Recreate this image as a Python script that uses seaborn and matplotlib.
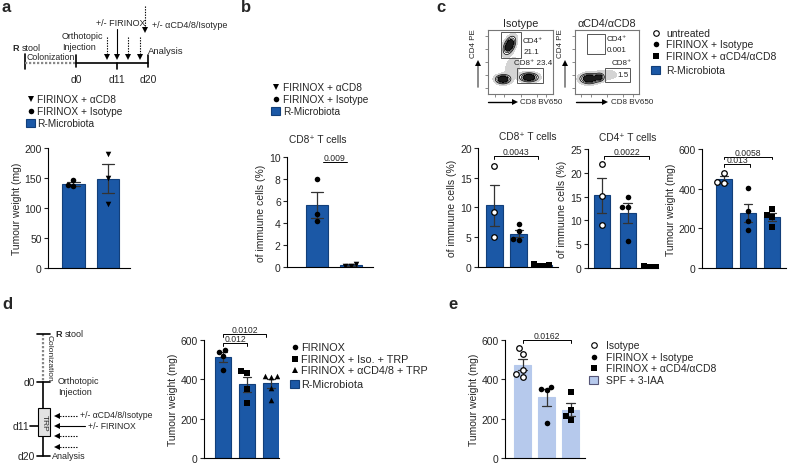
import numpy as np
import pandas as pd
import matplotlib
matplotlib.use('Agg')
import matplotlib.pyplot as plt
import seaborn as sns
from matplotlib.patches import Rectangle

# Style
sns.set_theme(style="ticks")
plt.rcParams['font.family'] = ['Liberation Sans', 'DejaVu Sans']
plt.rcParams['axes.linewidth'] = 0.8

# ---------------- data ----------------
# panel a : tumour weight (mg)
a_groups = ['FIRINOX + Isotype', 'FIRINOX + αCD8']
a_iso = [147, 136, 139]
a_cd8 = [190, 150, 106]

# panel b : CD8+ T cells (% of immune cells)
b_groups = ['FIRINOX + Isotype', 'FIRINOX + αCD8']
b_iso = [8.0, 4.8, 4.2]
b_cd8 = [0.3, 0.1, 0.1]

# panel c : untreated / FIRINOX + Isotype / FIRINOX + aCD4/aCD8
c_groups = ['untreated', 'FIRINOX + Isotype', 'FIRINOX + αCD4/αCD8']
c_cd8_untr = [16.9, 9.2, 5.1]
c_cd8_iso = [7.2, 6.0, 4.7, 4.6]
c_cd8_dep = [0.5, 0.2, 0.3, 0.2]
c_cd4_untr = [21.8, 15.1, 9.0]
c_cd4_iso = [14.9, 12.8, 12.8, 5.7]
c_cd4_dep = [0.5, 0.2, 0.3, 0.2]
c_tw_untr = [480, 432, 428]
c_tw_iso = [403, 287, 237, 192]
c_tw_dep = [300, 268, 258, 205]

# flow plots: (cx, cy, sx, sy, angle, weight) in gate-plot fraction units
flow_iso_blobs = [(0.33, 0.76, 0.085, 0.045, 65, 1.0),
                  (0.23, 0.23, 0.065, 0.04, 0, 1.0),
                  (0.63, 0.26, 0.08, 0.04, 0, 1.0),
                  (0.38, 0.42, 0.10, 0.07, 70, 0.18)]
flow_dep_blobs = [(0.22, 0.24, 0.08, 0.045, 0, 1.0),
                  (0.38, 0.26, 0.04, 0.035, 0, 0.7),
                  (0.50, 0.30, 0.15, 0.07, 0, 0.1)]

# panel d : tumour weight (mg)
d_groups = ['FIRINOX', 'FIRINOX + Iso. + TRP', 'FIRINOX + αCD4/8 + TRP']
d_fir = [550, 540, 519, 445]
d_iso = [440, 432, 350, 280]
d_dep = [418, 415, 412, 358, 295]

# panel e : tumour weight (mg)
e_groups = ['Isotype', 'FIRINOX + Isotype', 'FIRINOX + αCD4/αCD8']
e_iso = [560, 530, 450, 425, 410]
e_fir = [362, 350, 345, 178]
e_dep = [338, 242, 212, 192]

BLUE = '#1b58a6'
EDGE = '#123f7a'
LIGHT = '#b6c9ec'

W, H = 788, 464
fig = plt.figure(figsize=(W / 100, H / 100), dpi=100)


def px_axes(x0, y0, x1, y1):
    return fig.add_axes([x0 / W, 1 - y1 / H, (x1 - x0) / W, (y1 - y0) / H])


def bar_panel(ax, groups, values, markers, ylim, yticks, xlim, ylabel,
              face=BLUE, edge=EDGE, width=0.68):
    df = pd.DataFrame({'group': np.repeat(groups, [len(v) for v in values]),
                       'value': np.concatenate(values)})
    sns.barplot(data=df, x='group', y='value', order=groups, errorbar='se',
                color=face, saturation=1, width=width, edgecolor=edge,
                linewidth=0.8, capsize=0.35,
                err_kws={'color': '#333333', 'linewidth': 0.9}, ax=ax)
    for g, m in zip(groups, markers):
        sub = df[df.group == g]
        if m == 'open':
            sns.swarmplot(data=sub, x='group', y='value', order=groups, marker='o',
                          color='white', edgecolor='black', linewidth=0.9,
                          size=4, ax=ax)
        else:
            sns.swarmplot(data=sub, x='group', y='value', order=groups, marker=m,
                          color='black', linewidth=0, size=4, ax=ax)
    ax.set_xlim(*xlim)
    ax.set_ylim(*ylim)
    ax.set_yticks(yticks)
    ax.set_xticks([])
    ax.set_xlabel('')
    ax.set_ylabel(ylabel, fontsize=7.5, labelpad=2)
    ax.tick_params(axis='y', labelsize=7.5, length=3, width=0.8, pad=1.5)
    ax.set_facecolor('none')
    for s in ['top', 'right']:
        ax.spines[s].set_visible(False)
    for s in ['left', 'bottom']:
        ax.spines[s].set_color('black')


def sig(ax, x1, x2, y, txt, tick):
    ax.plot([x1, x1, x2, x2], [y - tick, y, y, y - tick], color='black',
            lw=0.7, clip_on=False)
    ax.text((x1 + x2) / 2, y, txt, ha='center', va='bottom', fontsize=6.2)


# overlay for diagrams, legends and labels (pixel coordinates)
ov = fig.add_axes([0, 0, 1, 1], zorder=10)
ov.set_xlim(0, W)
ov.set_ylim(H, 0)
ov.axis('off')
ov.patch.set_visible(False)

for lab, x, y in [('a', 2, 8), ('b', 241, 8), ('c', 436, 8), ('d', 2, 305), ('e', 448, 305)]:
    ov.text(x, y, lab, fontsize=12, weight='bold', va='center', ha='left')


def legend_block(x_mark, x_text, rows, fs, patch=(BLUE, EDGE)):
    for (m, label), y in rows:
        if m == 'patch':
            ov.add_patch(Rectangle((x_mark - 4.5, y - 4), 9, 8, facecolor=patch[0],
                                   edgecolor=patch[1], lw=0.8))
        elif m == 'open':
            ov.plot(x_mark, y, marker='o', ms=4, mfc='white', mec='black', mew=0.8)
        else:
            ov.plot(x_mark, y, marker=m, ms=4, color='black', mew=0)
        ov.text(x_text, y, label, fontsize=fs, va='center', ha='left')


def arrow_down(x, y0, y1, dotted):
    ov.plot([x, x], [y0, y1 - 3], color='black', lw=0.8,
            ls=(0, (1.2, 1.2)) if dotted else '-')
    ov.plot(x, y1 - 2, marker='v', ms=4.5, color='black', mew=0)


def arrow_left(y, x0, x1, dotted):
    ov.plot([x0, x1 + 3], [y, y], color='black', lw=0.8,
            ls=(0, (1.2, 1.2)) if dotted else '-')
    ov.plot(x1 + 2, y, marker='<', ms=4.5, color='black', mew=0)


# ---------------- panel a ----------------
ov.text(12, 48.5, 'R', fontsize=6.5, weight='bold', va='center')
ov.text(21.5, 48.5, 'stool', fontsize=6.5, va='center')
ov.plot([25, 25], [55, 70], color='black', lw=1.2)
ov.plot([25, 76], [63.5, 63.5], color='#888888', lw=1.6, ls=(0, (1, 0.8)))
ov.plot([76, 148], [63.5, 63.5], color='black', lw=1.2)
ov.plot([76, 76], [56, 68], color='black', lw=1.2)
ov.plot([117, 117], [63.5, 70], color='black', lw=1.2)
ov.plot([148, 148], [56, 68], color='black', lw=1.2)
ov.text(51, 58, 'Colonization', fontsize=6.3, ha='center', va='center')
for lab, x in [('d0', 76), ('d11', 117), ('d20', 148)]:
    ov.text(x, 80, lab, fontsize=7.5, ha='center', va='center')
ov.text(62, 42, 'Orthotopic\nInjection', fontsize=6.5, va='center', linespacing=1.3)
for x in [107, 128, 140]:
    arrow_down(x, 38, 60, True)
arrow_down(117, 30, 60, False)
arrow_down(145, 7, 33, True)
ov.text(96, 23, '+/- FIRINOX', fontsize=6.5, va='center')
ov.text(152, 25, '+/- αCD4/8/Isotype', fontsize=6.5, va='center')
ov.text(148, 52, 'Analysis', fontsize=6.8, va='center')

legend_block(31, 37, [(('v', 'FIRINOX + αCD8'), 100), (('o', 'FIRINOX + Isotype'), 112),
                      (('patch', 'R-Microbiota'), 124)], 7.3)

ax_a = px_axes(48, 149, 130, 269)
bar_panel(ax_a, a_groups, [a_iso, a_cd8], ['o', 'v'], (0, 200), [0, 50, 100, 150, 200],
          (-0.74, 1.64), 'Tumour weight (mg)', width=0.66)

# ---------------- panel b ----------------
legend_block(276, 283, [(('v', 'FIRINOX + αCD8'), 88), (('o', 'FIRINOX + Isotype'), 100),
                        (('patch', 'R-Microbiota'), 112)], 7.3)
ov.text(318, 140, 'CD8⁺ T cells', fontsize=7.3, ha='center', va='center')
ax_b = px_axes(287, 158, 373, 268)
bar_panel(ax_b, b_groups, [b_iso, b_cd8], ['o', 'v'], (0, 10), [0, 2, 4, 6, 8, 10],
          (-0.88, 1.65), 'of immuune cells (%)', width=0.65)
sig(ax_b, 0.18, 0.88, 9.5, '0.009', 0)

# ---------------- panel c : flow plots ----------------
xx, yy = np.meshgrid(np.linspace(0, 1, 200), np.linspace(0, 1, 200))


def flow(ax, blobs, gates, labels, title):
    z = np.zeros_like(xx)
    for cx, cy, sx, sy, ang, w in blobs:
        a = np.deg2rad(ang)
        u = (xx - cx) * np.cos(a) + (yy - cy) * np.sin(a)
        v = -(xx - cx) * np.sin(a) + (yy - cy) * np.cos(a)
        z += w * np.exp(-(u ** 2 / (2 * sx ** 2) + v ** 2 / (2 * sy ** 2)))
    ax.contourf(xx, yy, z, levels=[0.06, 0.2], colors=['#d4d4d4'])
    ax.contourf(xx, yy, z, levels=[0.55, 10], colors=['#1a1a1a'])
    ax.contour(xx, yy, z, levels=[0.2, 0.35, 0.5], colors='black', linewidths=0.5)
    for x0, y0, x1, y1 in gates:
        ax.add_patch(Rectangle((x0, y0), x1 - x0, y1 - y0, fill=False,
                               edgecolor='#555555', lw=0.7, zorder=5))
    for x, y, t in labels:
        ax.text(x, y, t, fontsize=5.8, va='center', ha='left', color='#222222', zorder=6)
    ax.set_xlim(0, 1)
    ax.set_ylim(0, 1)
    ax.set_xticks([0.1, 0.25, 0.5, 0.75, 0.9])
    ax.set_yticks([0.1, 0.3, 0.5, 0.7, 0.9])
    ax.set_xticklabels([])
    ax.set_yticklabels([])
    ax.tick_params(length=2, width=0.6, color='#777777')
    for s in ax.spines.values():
        s.set_color('#777777')
        s.set_linewidth(0.8)
    ax.set_title(title, fontsize=7.8, pad=3)


f1 = px_axes(488, 31, 553, 95)
flow(f1, flow_iso_blobs,
     [(0.20, 0.56, 0.51, 0.97), (0.45, 0.17, 0.85, 0.41)],
     [(0.54, 0.83, 'CD4⁺'), (0.54, 0.66, '21.1'), (0.40, 0.50, 'CD8⁺ 23.4')],
     'Isotype')
f2 = px_axes(575, 31, 639, 95)
flow(f2, flow_dep_blobs,
     [(0.19, 0.62, 0.47, 0.94), (0.47, 0.19, 0.86, 0.41)],
     [(0.50, 0.86, 'CD4⁺'), (0.50, 0.70, '0.001'), (0.57, 0.49, 'CD8⁺'), (0.66, 0.31, '1.5')],
     'αCD4/αCD8')

for xl, xa, xb0, xb1, xt in [(474, 478, 488, 517, 520), (561, 565, 576, 607, 611)]:
    ov.text(xl, 44, 'CD4 PE', fontsize=5.8, rotation=90, ha='center', va='center')
    ov.plot([xa, xa], [88, 66], color='#777777', lw=1.2)
    ov.plot(xa, 64, marker='^', ms=4.5, color='black', mew=0)
    ov.plot([xb0, xb1 - 3], [103, 103], color='black', lw=1.0)
    ov.plot(xb1 - 2, 103, marker='>', ms=4.5, color='black', mew=0)
    ov.text(xt, 103, 'CD8 BV650', fontsize=5.8, va='center')

legend_block(656, 666, [(('open', 'untreated'), 34), (('o', 'FIRINOX + Isotype'), 45),
                        (('s', 'FIRINOX + αCD4/αCD8'), 57), (('patch', 'R-Microbiota'), 71)], 7.5)

# ---------------- panel c : bars ----------------
ov.text(528, 137, 'CD8⁺ T cells', fontsize=7.3, ha='center', va='center')
ax_c1 = px_axes(478, 149, 558, 268)
bar_panel(ax_c1, c_groups, [c_cd8_untr, c_cd8_iso, c_cd8_dep], ['open', 'o', 's'],
          (0, 20), [0, 5, 10, 15, 20], (-0.67, 2.6), 'of immuune cells (%)', width=0.7)
sig(ax_c1, 0, 1.8, 18.6, '0.0043', 0.5)

ov.text(628, 138, 'CD4⁺ T cells', fontsize=7.3, ha='center', va='center')
ax_c2 = px_axes(588, 150, 658, 269)
bar_panel(ax_c2, c_groups, [c_cd4_untr, c_cd4_iso, c_cd4_dep], ['open', 'o', 's'],
          (0, 25), [0, 5, 10, 15, 20, 25], (-0.52, 2.15), 'of immuune cells (%)', width=0.62)
sig(ax_c2, 0.1, 1.8, 23.5, '0.0022', 0.6)

ax_c3 = px_axes(702, 150, 786, 269)
bar_panel(ax_c3, c_groups, [c_tw_untr, c_tw_iso, c_tw_dep], ['open', 'o', 's'],
          (0, 600), [0, 200, 400, 600], (-0.92, 2.58), 'Tumour weight (mg)', width=0.68)
sig(ax_c3, 0, 2, 562, '0.0058', 14)
sig(ax_c3, 0, 1.1, 522, '0.013', 14)

# ---------------- panel d ----------------
ov.plot([43, 43], [335, 383], color='#888888', lw=1.6, ls=(0, (1, 0.8)))
ov.plot([43, 43], [383, 457], color='black', lw=1.2)
for y in [335, 383, 457]:
    ov.plot([37, 50], [y, y], color='black', lw=1.2)
ov.plot([30, 38], [427, 427], color='black', lw=1.2)
ov.add_patch(Rectangle((38, 409), 12, 28, facecolor='#e2e2e2', edgecolor='black', lw=0.8, zorder=3))
ov.text(44, 423, 'TRP', fontsize=6, rotation=-90, ha='center', va='center', zorder=4)
ov.text(49, 358, 'Colonization', fontsize=6, rotation=-90, ha='center', va='center')
ov.text(55, 335, 'R', fontsize=6.5, weight='bold', va='center')
ov.text(64.5, 335, 'stool', fontsize=6.5, va='center')
ov.text(35, 383, 'd0', fontsize=7.5, ha='right', va='center')
ov.text(29, 427, 'd11', fontsize=7.5, ha='right', va='center')
ov.text(35, 457, 'd20', fontsize=7.5, ha='right', va='center')
ov.text(58, 387, 'Orthotopic\nInjection', fontsize=6.5, va='center', linespacing=1.3)
arrow_left(417, 77, 55, True)
arrow_left(427, 85, 55, False)
arrow_left(437, 77, 55, True)
arrow_left(448, 77, 55, True)
ov.text(80, 416, '+/- αCD4/8/Isotype', fontsize=6.2, va='center')
ov.text(88, 427, '+/- FIRINOX', fontsize=6.2, va='center')
ov.text(52, 457, 'Analysis', fontsize=6.5, va='center')

ax_d = px_axes(204, 341, 279, 459)
bar_panel(ax_d, d_groups, [d_fir, d_iso, d_dep], ['o', 's', '^'],
          (0, 600), [0, 200, 400, 600], (-0.79, 2.33), 'Tumour weight (mg)', width=0.68)
sig(ax_d, 0, 1, 585, '0.012', 14)
sig(ax_d, 0, 1.8, 630, '0.0102', 14)
legend_block(295, 301, [(('o', 'FIRINOX'), 348), (('s', 'FIRINOX + Iso. + TRP'), 360),
                        (('^', 'FIRINOX + αCD4/8 + TRP'), 371), (('patch', 'R-Microbiota'), 385)], 7.8)

# ---------------- panel e ----------------
ax_e = px_axes(505, 341, 585, 459)
bar_panel(ax_e, e_groups, [e_iso, e_fir, e_dep], ['open', 'o', 's'],
          (0, 600), [0, 200, 400, 600], (-0.73, 2.6), 'Tumour weight (mg)',
          face=LIGHT, edge=LIGHT, width=0.7)
sig(ax_e, 0, 2, 600, '0.0162', 14)
legend_block(594, 606, [(('open', 'Isotype'), 346), (('o', 'FIRINOX + Isotype'), 358),
                        (('s', 'FIRINOX + αCD4/αCD8'), 369), (('patch', 'SPF + 3-IAA'), 381)],
             7.5, patch=(LIGHT, '#555577'))

fig.savefig('out.png', dpi=100)
